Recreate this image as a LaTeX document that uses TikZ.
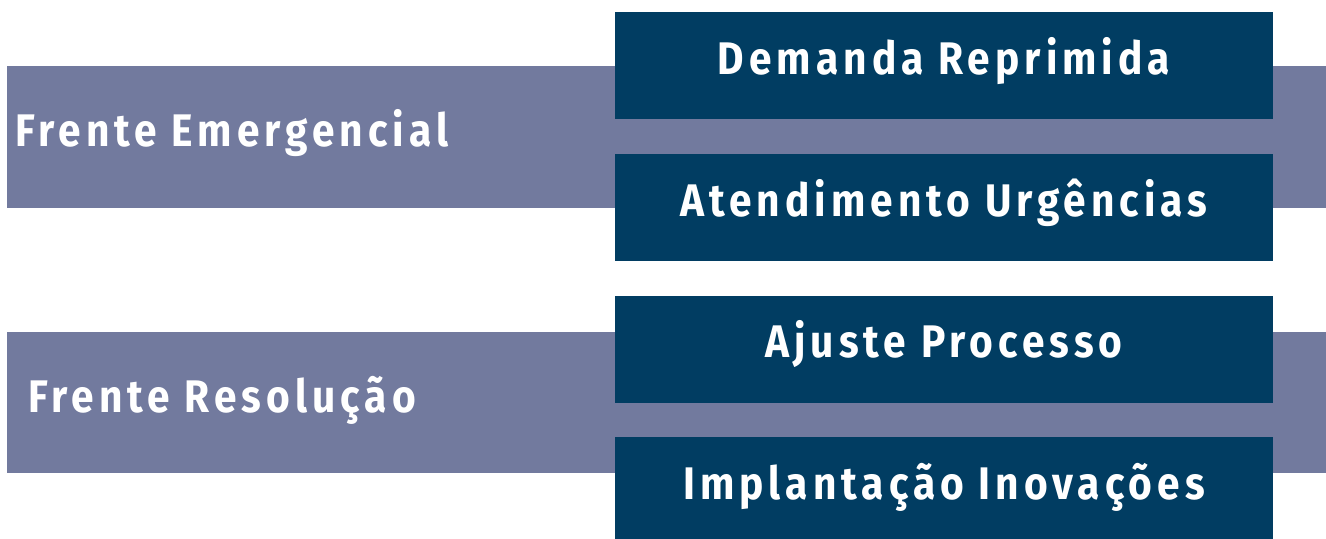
\documentclass[tikz,border=0pt]{standalone}
\usepackage{fontspec}
\setmainfont{Fira Sans}[FakeStretch=0.89, LetterSpace=11]
\usepackage{tikz}
\usetikzlibrary{positioning}
\definecolor{barblue}{RGB}{114,122,158}
\definecolor{boxblue}{RGB}{1,61,98}
\tikzset{
	frente/.style={anchor=base west, inner sep=0pt, text=white, font=\fontsize{26}{30}\selectfont\bfseries},
	acao/.style={fill=boxblue, inner sep=0pt, minimum width=13.16cm, text height=1.24cm, text depth=0.9cm, text=white, font=\fontsize{26}{30}\selectfont\bfseries}
}

\begin{document}
\begin{tikzpicture}

	\useasboundingbox (0,0) rectangle (26.52,-10.76);

	% faixas
	\fill[barblue] (0.13,-1.32) rectangle (26.6,-4.16);
	\fill[barblue] (0.13,-6.64) rectangle (26.6,-9.46);

	\node[frente] (emerg) at (0.30,-2.92) {Frente Emergencial};
	\node[frente] (resol) at (0.56,-8.24) {Frente Resolução};

	% caixas
	\node[acao, anchor=north] (dem) at (18.88,-0.24) {Demanda Reprimida};
	\node[acao, below=0.68cm of dem] (atend) {Atendimento Urgências};
	\node[acao, below=0.68cm of atend] (ajuste) {Ajuste Processo};
	\node[acao, below=0.68cm of ajuste] (impl) {Implantação Inovações};

\end{tikzpicture}
\end{document}
